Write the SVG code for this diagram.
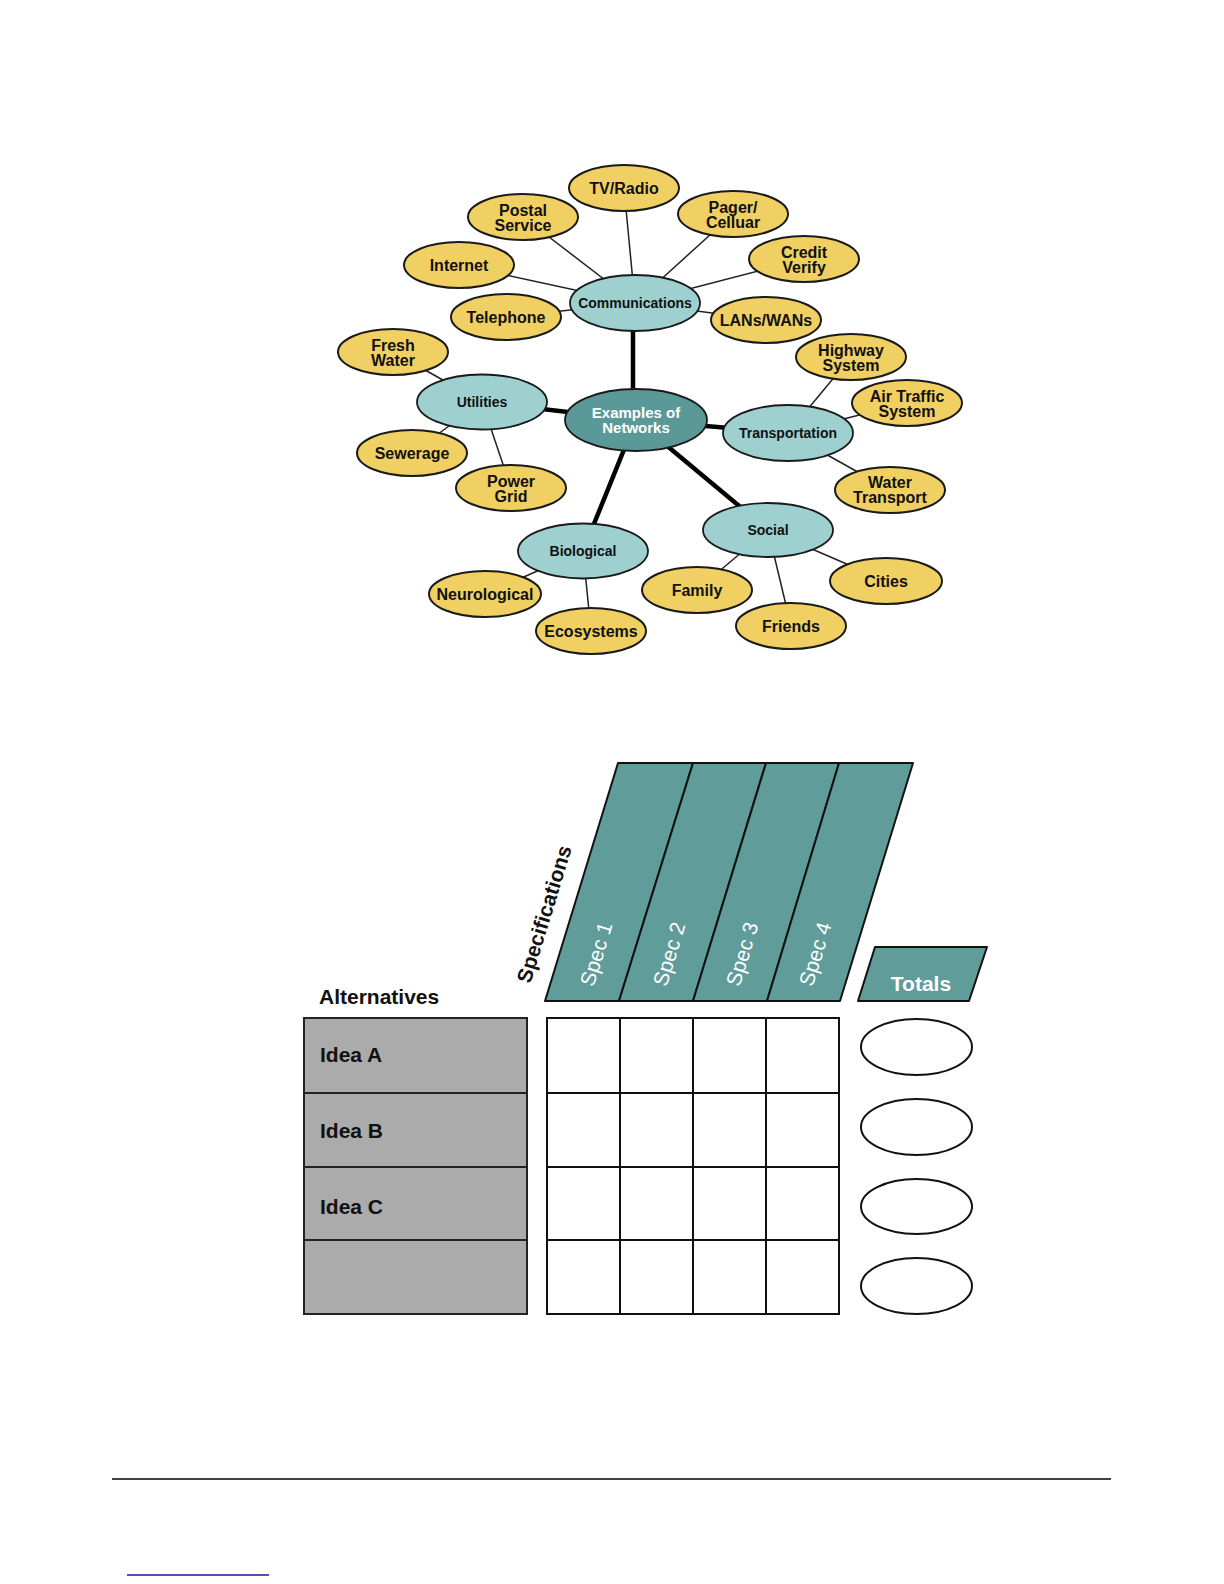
<svg xmlns="http://www.w3.org/2000/svg" width="1224" height="1584" viewBox="0 0 1224 1584">
<style>
  .leaf { fill: #F0D062; stroke: #1a1a1a; stroke-width: 2; }
  .hub { fill: #9DD0CF; stroke: #1a1a1a; stroke-width: 1.8; }
  .core { fill: #5B9998; stroke: #1a1a1a; stroke-width: 1.8; }
  .lt { font-family: "Liberation Sans", Arial, sans-serif; font-weight: bold; font-size: 16px; fill: #111; text-anchor: middle; }
  .ht { font-family: "Liberation Sans", Arial, sans-serif; font-weight: bold; font-size: 14px; fill: #111; text-anchor: middle; }
  .ct { font-family: "Liberation Sans", Arial, sans-serif; font-weight: bold; font-size: 15px; fill: #fff; text-anchor: middle; }
  .thin { stroke: #222; stroke-width: 1.5; fill: none; }
  .thick { stroke: #000; stroke-width: 4.5; fill: none; }
  .spec { fill: #5F9C9A; stroke: #111; stroke-width: 2; stroke-linejoin: round; }
  .st { font-family: "Liberation Sans", Arial, sans-serif; font-size: 21px; fill: #fff; text-anchor: middle; dominant-baseline: central; }
  .bt { font-family: "Liberation Sans", Arial, sans-serif; font-weight: bold; font-size: 21px; fill: #111; }
  .alt { fill: #ABABAB; stroke: #222; stroke-width: 2; }
  .cell { fill: #fff; stroke: #111; stroke-width: 2; }
  .tot { fill: #fff; stroke: #111; stroke-width: 2; }
</style>

<g id="connectors">
  <line class="thin" x1="624" y1="188" x2="635" y2="303"/>
  <line class="thin" x1="523" y1="217" x2="635" y2="303"/>
  <line class="thin" x1="459" y1="265" x2="635" y2="303"/>
  <line class="thin" x1="506" y1="317" x2="635" y2="303"/>
  <line class="thin" x1="733" y1="214" x2="635" y2="303"/>
  <line class="thin" x1="804" y1="259" x2="635" y2="303"/>
  <line class="thin" x1="766" y1="320" x2="635" y2="303"/>
  <line class="thin" x1="393" y1="352" x2="482" y2="402"/>
  <line class="thin" x1="412" y1="453" x2="482" y2="402"/>
  <line class="thin" x1="511" y1="488" x2="482" y2="402"/>
  <line class="thin" x1="485" y1="594" x2="583" y2="551"/>
  <line class="thin" x1="591" y1="631" x2="583" y2="551"/>
  <line class="thin" x1="851" y1="357" x2="788" y2="433"/>
  <line class="thin" x1="907" y1="403" x2="788" y2="433"/>
  <line class="thin" x1="890" y1="490" x2="788" y2="433"/>
  <line class="thin" x1="697" y1="590" x2="768" y2="530"/>
  <line class="thin" x1="791" y1="626" x2="768" y2="530"/>
  <line class="thin" x1="886" y1="581" x2="768" y2="530"/>
  <line class="thick" x1="633" y1="320" x2="633" y2="400"/>
  <line class="thick" x1="482" y1="402" x2="636" y2="420"/>
  <line class="thick" x1="636" y1="420" x2="583" y2="551"/>
  <line class="thick" x1="636" y1="420" x2="788" y2="433"/>
  <line class="thick" x1="636" y1="420" x2="768" y2="530"/>
</g>

<g id="communications"><ellipse class="hub" cx="635" cy="303" rx="65" ry="28"/><text class="ht" x="635" y="308">Communications</text></g>
<g id="utilities"><ellipse class="hub" cx="482" cy="402" rx="65" ry="27.5"/><text class="ht" x="482" y="407">Utilities</text></g>
<g id="biological"><ellipse class="hub" cx="583" cy="551" rx="65" ry="27.5"/><text class="ht" x="583" y="556">Biological</text></g>
<g id="transportation"><ellipse class="hub" cx="788" cy="433" rx="65" ry="28"/><text class="ht" x="788" y="438">Transportation</text></g>
<g id="social"><ellipse class="hub" cx="768" cy="530" rx="65" ry="27"/><text class="ht" x="768" y="535">Social</text></g>
<g id="examples"><ellipse class="core" cx="636" cy="420" rx="71" ry="31"/><text class="ct" x="636" y="418">Examples of</text><text class="ct" x="636" y="433">Networks</text></g>

<g id="tvradio"><ellipse class="leaf" cx="624" cy="188" rx="55" ry="23"/><text class="lt" x="624" y="194">TV/Radio</text></g>
<g id="postal"><ellipse class="leaf" cx="523" cy="217" rx="55" ry="23"/><text class="lt" x="523" y="216">Postal</text><text class="lt" x="523" y="231">Service</text></g>
<g id="internet"><ellipse class="leaf" cx="459" cy="265" rx="55" ry="23"/><text class="lt" x="459" y="271">Internet</text></g>
<g id="telephone"><ellipse class="leaf" cx="506" cy="317" rx="55" ry="23"/><text class="lt" x="506" y="323">Telephone</text></g>
<g id="pager"><ellipse class="leaf" cx="733" cy="214" rx="55" ry="23"/><text class="lt" x="733" y="213">Pager/</text><text class="lt" x="733" y="228">Celluar</text></g>
<g id="credit"><ellipse class="leaf" cx="804" cy="259" rx="55" ry="23"/><text class="lt" x="804" y="258">Credit</text><text class="lt" x="804" y="273">Verify</text></g>
<g id="lanswans"><ellipse class="leaf" cx="766" cy="320" rx="55" ry="23"/><text class="lt" x="766" y="326">LANs/WANs</text></g>
<g id="freshwater"><ellipse class="leaf" cx="393" cy="352" rx="55" ry="23"/><text class="lt" x="393" y="351">Fresh</text><text class="lt" x="393" y="366">Water</text></g>
<g id="sewerage"><ellipse class="leaf" cx="412" cy="453" rx="55" ry="23"/><text class="lt" x="412" y="459">Sewerage</text></g>
<g id="powergrid"><ellipse class="leaf" cx="511" cy="488" rx="55" ry="23"/><text class="lt" x="511" y="487">Power</text><text class="lt" x="511" y="502">Grid</text></g>
<g id="neurological"><ellipse class="leaf" cx="485" cy="594" rx="56" ry="23"/><text class="lt" x="485" y="600">Neurological</text></g>
<g id="ecosystems"><ellipse class="leaf" cx="591" cy="631" rx="55" ry="23"/><text class="lt" x="591" y="637">Ecosystems</text></g>
<g id="highway"><ellipse class="leaf" cx="851" cy="357" rx="55" ry="23"/><text class="lt" x="851" y="356">Highway</text><text class="lt" x="851" y="371">System</text></g>
<g id="airtraffic"><ellipse class="leaf" cx="907" cy="403" rx="55" ry="23"/><text class="lt" x="907" y="402">Air Traffic</text><text class="lt" x="907" y="417">System</text></g>
<g id="watertransport"><ellipse class="leaf" cx="890" cy="490" rx="55" ry="23"/><text class="lt" x="890" y="488">Water</text><text class="lt" x="890" y="503">Transport</text></g>
<g id="family"><ellipse class="leaf" cx="697" cy="590" rx="55" ry="23"/><text class="lt" x="697" y="596">Family</text></g>
<g id="friends"><ellipse class="leaf" cx="791" cy="626" rx="55" ry="23"/><text class="lt" x="791" y="632">Friends</text></g>
<g id="cities"><ellipse class="leaf" cx="886" cy="581" rx="56" ry="23"/><text class="lt" x="886" y="587">Cities</text></g>

<g id="specifications">
  <polygon class="spec" points="618,763 693,763 619,1001 545,1001"/>
  <polygon class="spec" points="693,763 766,763 693,1001 619,1001"/>
  <polygon class="spec" points="766,763 839,763 767,1001 693,1001"/>
  <polygon class="spec" points="839,763 913,763 840,1001 767,1001"/>
  <text class="st" transform="translate(596,954) rotate(-73)">Spec 1</text>
  <text class="st" transform="translate(669,954) rotate(-73)">Spec 2</text>
  <text class="st" transform="translate(742,954) rotate(-73)">Spec 3</text>
  <text class="st" transform="translate(815,954) rotate(-73)">Spec 4</text>
  <text class="bt" text-anchor="middle" dominant-baseline="central" transform="translate(544,914) rotate(-73)">Specifications</text>
</g>

<g id="totals">
  <polygon class="spec" points="875,947 987,947 969,1001 858,1001"/>
  <text class="st" style="font-weight:bold;font-size:21px" x="921" y="983">Totals</text>
  <ellipse class="tot" cx="916.5" cy="1047" rx="55.5" ry="28"/>
  <ellipse class="tot" cx="916.5" cy="1127" rx="55.5" ry="28"/>
  <ellipse class="tot" cx="916.5" cy="1206.5" rx="55.5" ry="27.5"/>
  <ellipse class="tot" cx="916.5" cy="1286" rx="55.5" ry="28"/>
</g>

<g id="alternatives">
  <text class="bt" x="319" y="1004">Alternatives</text>
  <rect class="alt" x="304" y="1018" width="223" height="75"/>
  <rect class="alt" x="304" y="1093" width="223" height="74"/>
  <rect class="alt" x="304" y="1167" width="223" height="73"/>
  <rect class="alt" x="304" y="1240" width="223" height="74"/>
  <text class="bt" x="320" y="1062">Idea A</text>
  <text class="bt" x="320" y="1138">Idea B</text>
  <text class="bt" x="320" y="1214">Idea C</text>
</g>

<g id="grid">
  <rect class="cell" x="547" y="1018" width="292" height="296"/>
  <line class="cell" x1="620" y1="1018" x2="620" y2="1314"/>
  <line class="cell" x1="693" y1="1018" x2="693" y2="1314"/>
  <line class="cell" x1="766" y1="1018" x2="766" y2="1314"/>
  <line class="cell" x1="547" y1="1093" x2="839" y2="1093"/>
  <line class="cell" x1="547" y1="1167" x2="839" y2="1167"/>
  <line class="cell" x1="547" y1="1240" x2="839" y2="1240"/>
</g>

<g id="footer">
  <line x1="112" y1="1479" x2="1111" y2="1479" stroke="#000" stroke-width="1.3"/>
  <line x1="127" y1="1575" x2="269" y2="1575" stroke="#1a1a8c" stroke-width="1.3"/>
</g>
</svg>
